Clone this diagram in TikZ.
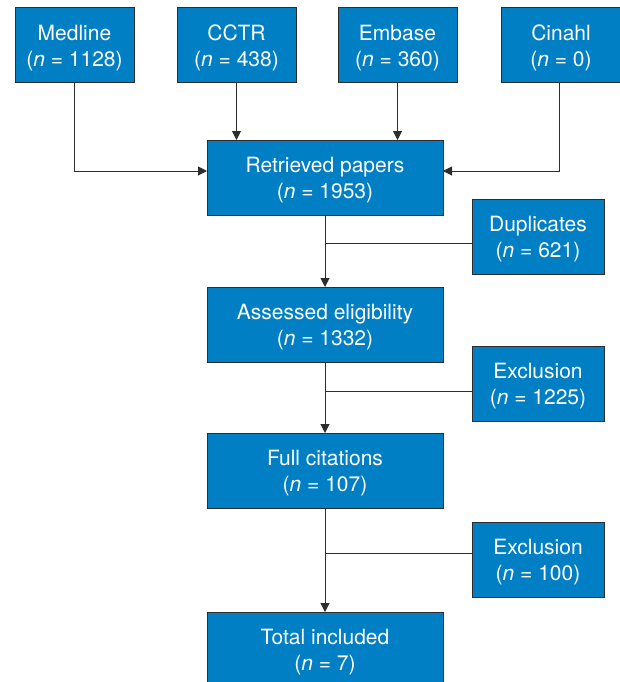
\documentclass[tikz,border=0pt]{standalone}
\usepackage{fontspec}
\setmainfont{TeX Gyre Heros}
\usetikzlibrary{positioning,arrows.meta}
\definecolor{boxblue}{RGB}{0,127,196}
\definecolor{linegray}{RGB}{45,45,45}
\tikzset{
  box/.style={draw=linegray, line width=1pt, fill=boxblue, text=white, align=center,
    inner sep=0pt, outer sep=0pt, minimum height=75pt, text height=46pt, text depth=4.5pt,
    font=\fontsize{21}{26}\selectfont},
  srcbox/.style={box, minimum width=119pt},
  mainbox/.style={box, minimum width=236pt},
  sidebox/.style={box, minimum width=132pt},
  flow/.style={draw=linegray, line width=1pt, -{Triangle[length=9pt,width=9pt]}},
  joinline/.style={draw=linegray, line width=1pt},
}
\newcommand{\cnt}[1]{(\textit{n} = #1)}

\begin{document}
\begin{tikzpicture}[x=1pt,y=1pt]
  \useasboundingbox (0,0) rectangle (619,-682);
  % sources
  \node[srcbox] (medline) at (74.5,-45.5) {Medline\\\cnt{1128}};
  \node[srcbox] (cctr) at (236.5,-45.5) {CCTR\\\cnt{438}};
  \node[srcbox] (embase) at (397.5,-45.5) {Embase\\\cnt{360}};
  \node[srcbox] (cinahl) at (561,-45.5) {Cinahl\\\cnt{0}};
  % main column
  \node[mainbox] (retr) at (325,-177.5) {Retrieved papers\\\cnt{1953}};
  \node[mainbox, below=72pt of retr] (assess) {Assessed eligibility\\\cnt{1332}};
  \node[mainbox, below=71pt of assess] (full) {Full citations\\\cnt{107}};
  \node[mainbox, below=104pt of full] (total) {Total included\\\cnt{7}};
  % removed
  \node[sidebox] (dup) at (538,-236.5) {Duplicates\\\cnt{621}};
  \node[sidebox] (excla) at (538,-383.5) {Exclusion\\\cnt{1225}};
  \node[sidebox] (exclb) at (538,-560) {Exclusion\\\cnt{100}};

  \draw[flow] (medline.south) |- ([yshift=6.5pt]retr.west);
  \draw[flow] (cctr.south) -- (cctr.south |- retr.north);
  \draw[flow] (embase.south) -- (embase.south |- retr.north);
  \draw[flow] (cinahl.south) -- ++(-2,0) |- ([yshift=6.5pt]retr.east);
  \draw[flow] (retr) -- (assess);
  \draw[flow] (assess) -- (full);
  \draw[flow] (full) -- (total);
  \draw[joinline] ([yshift=-6.5pt]dup.west) -- ([yshift=-6.5pt]dup.west -| retr.south);
  \draw[joinline] ([yshift=-7.5pt]excla.west) -- ([yshift=-7.5pt]excla.west -| assess.south);
  \draw[joinline] ([yshift=7pt]exclb.west) -- ([yshift=7pt]exclb.west -| full.south);
\end{tikzpicture}
\end{document}
